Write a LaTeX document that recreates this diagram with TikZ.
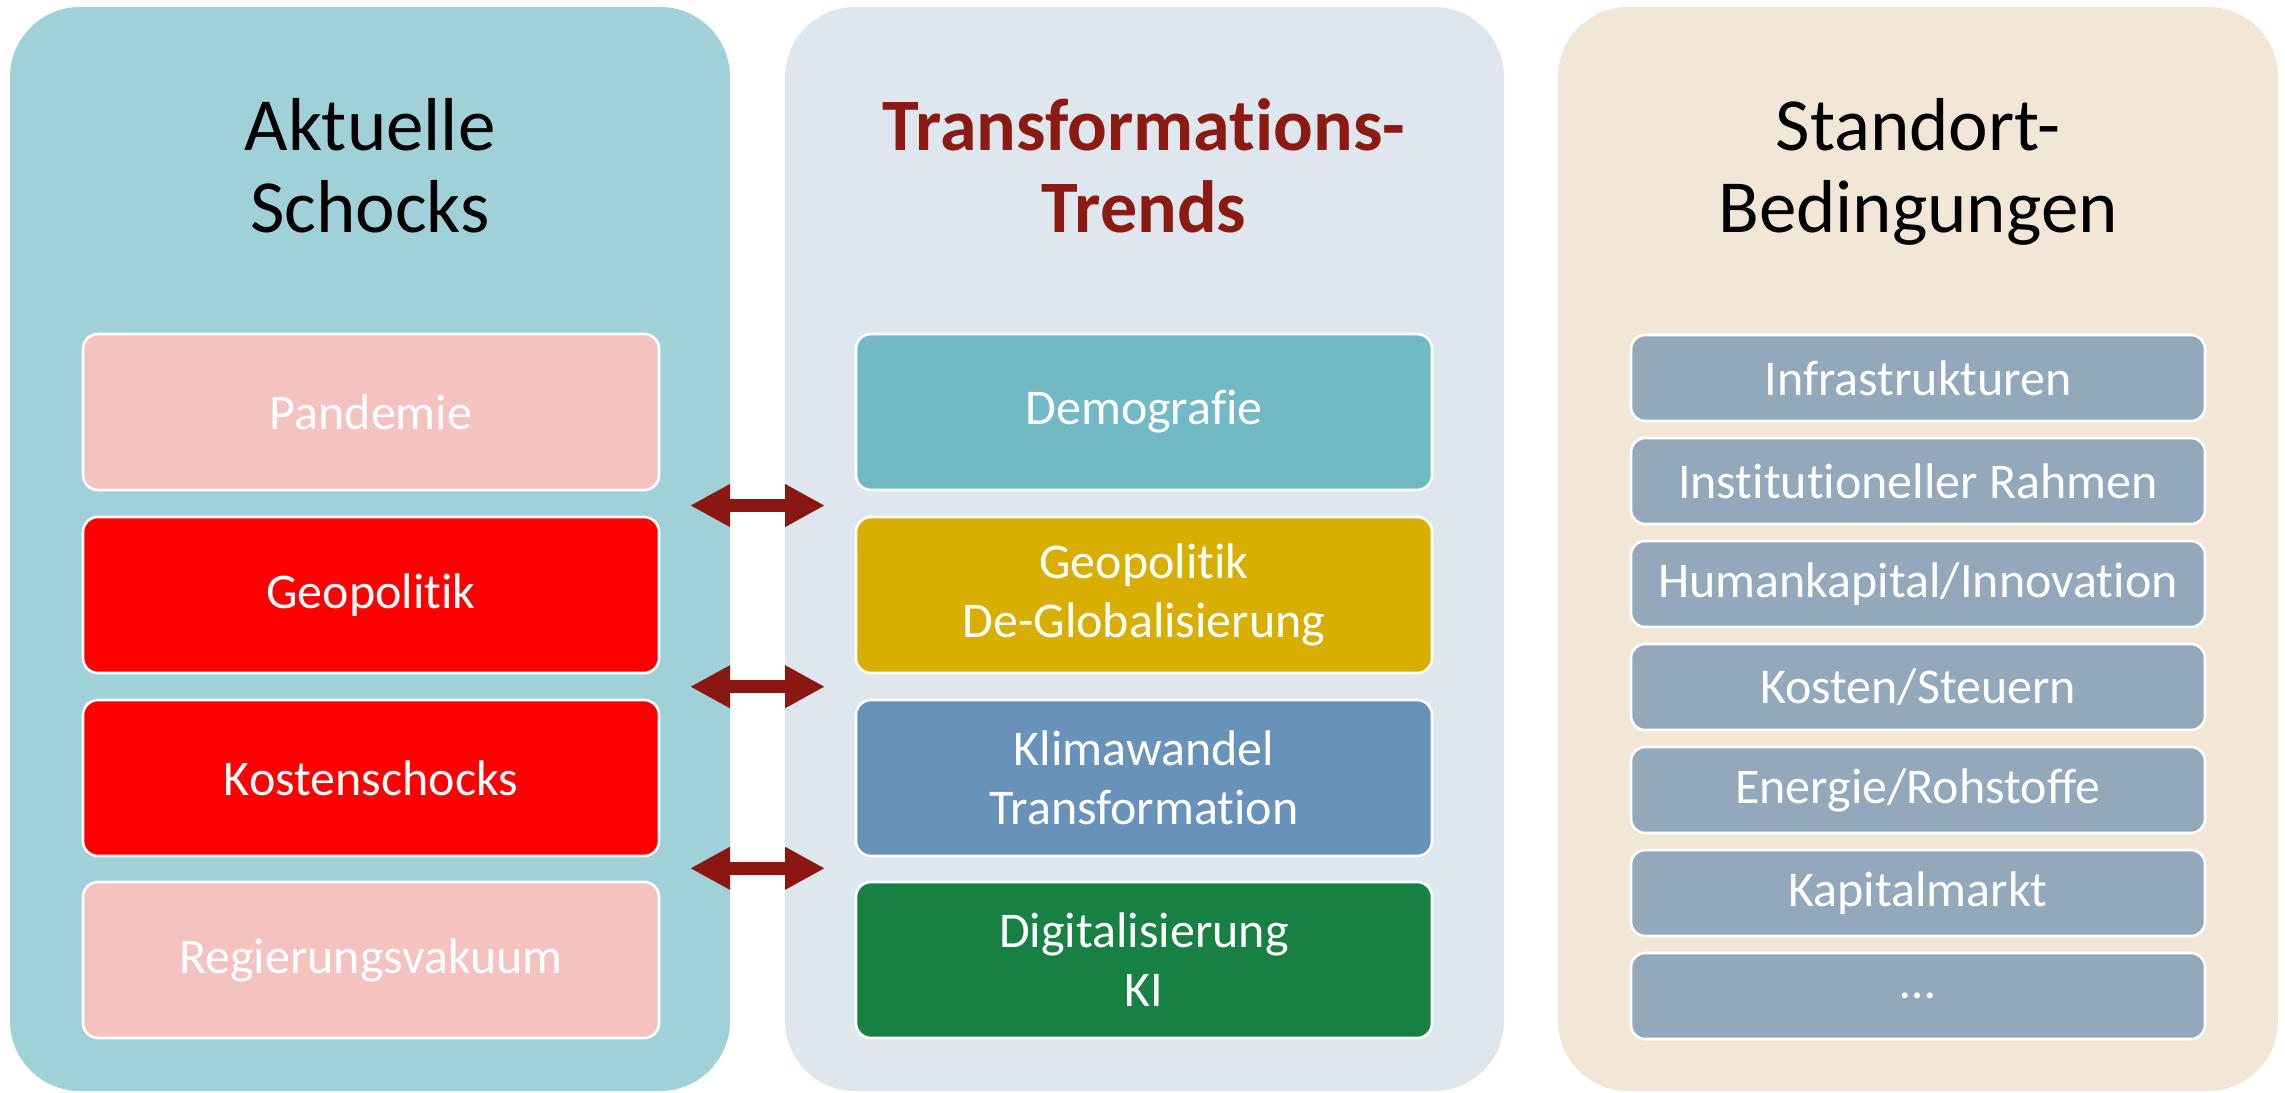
\documentclass[tikz,border=0pt]{standalone}
\usepackage{fontspec}
\setmainfont{Carlito}[Ligatures=NoCommon]
\usetikzlibrary{arrows.meta}
\definecolor{panelA}{HTML}{A1D1D8}
\definecolor{panelB}{HTML}{DFE7EE}
\definecolor{panelC}{HTML}{F2E7D6}
\definecolor{pinkbox}{HTML}{F4C3BF}
\definecolor{redbox}{HTML}{FF0000}
\definecolor{tealbox}{HTML}{71B9C4}
\definecolor{goldbox}{HTML}{D8AF00}
\definecolor{steelbox}{HTML}{6892B9}
\definecolor{greenbox}{HTML}{168142}
\definecolor{graybox}{HTML}{93A8BB}
\definecolor{titlered}{HTML}{8B1A12}
\definecolor{arrowred}{HTML}{8A1712}
\tikzset{
  panel/.style={rounded corners=35pt},
  ptitle/.style={align=center, font=\fontsize{37.5}{41}\selectfont},
  bigbox/.style={draw=white, line width=1.3pt, rounded corners=7.5pt,
    minimum width=288pt, minimum height=78pt, inner sep=0pt,
    text=white, align=center, font=\fontsize{25}{29.5}\selectfont},
  smallbox/.style={draw=white, line width=1.3pt, rounded corners=7pt,
    minimum width=287pt, minimum height=43pt, inner sep=0pt,
    text=white, fill=graybox, align=center, font=\fontsize{25}{29}\selectfont},
  dblarrow/.style={draw=arrowred, line width=6.5pt,
    {Triangle[length=20pt,width=20pt]}-{Triangle[length=20pt,width=20pt]}}
}
\begin{document}
\begin{tikzpicture}[x=0.5pt,y=-0.5pt]
\useasboundingbox (0,0) rectangle (2285,1092);
\fill[white] (0,0) rectangle (2285,1092);
% panels
\fill[panelA,panel] (10,7) rectangle (730,1091);
\fill[panelB,panel] (785,7) rectangle (1504,1091);
\fill[panelC,panel] (1558,7) rectangle (2278,1091);
% titles (base anchor = baseline of the last line)
\node[ptitle, anchor=base] (t1) at (370,232) {Aktuelle\\Schocks};
\node[ptitle, anchor=base, text=titlered, font=\fontsize{37}{41}\selectfont\bfseries] (t2) at (1144,232) {Transformations-\\Trends};
\node[ptitle, anchor=base] (t3) at (1918,232) {Standort-\\Bedingungen};
% left boxes
\node[bigbox, fill=pinkbox] (l1) at (371,412) {Pandemie};
\node[bigbox, fill=redbox] (l2) at (371,595) {Geopolitik};
\node[bigbox, fill=redbox] (l3) at (371,778) {Kostenschocks};
\node[bigbox, fill=pinkbox] (l4) at (371,960) {Regierungsvakuum};
% middle boxes
\node[bigbox, fill=tealbox] (m1) at (1144,412) {Demografie};
\node[bigbox, fill=goldbox] (m2) at (1144,595) {Geopolitik\\De-Globalisierung};
\node[bigbox, fill=steelbox] (m3) at (1144,778) {Klimawandel\\Transformation};
\node[bigbox, fill=greenbox] (m4) at (1144,960) {Digitalisierung\\KI};
% right boxes
\node[smallbox] (r1) at (1918,378) {Infrastrukturen};
\node[smallbox] (r2) at (1918,481) {Institutioneller Rahmen};
\node[smallbox] (r3) at (1918,584) {Humankapital/Innovation};
\node[smallbox] (r4) at (1918,687) {Kosten/Steuern};
\node[smallbox] (r5) at (1918,790) {Energie/Rohstoffe};
\node[smallbox] (r6) at (1918,893) {Kapitalmarkt};
\node[smallbox] (r7) at (1918,996) {\dots};
% arrows
\coordinate (a1l) at (690,505.5);
\coordinate (a1r) at (825,505.5);
\coordinate (a2l) at (690,686.7);
\coordinate (a2r) at (825,686.7);
\coordinate (a3l) at (690,868.3);
\coordinate (a3r) at (825,868.3);
\draw[dblarrow] (a1l) -- (a1r);
\draw[dblarrow] (a2l) -- (a2r);
\draw[dblarrow] (a3l) -- (a3r);
\end{tikzpicture}
\end{document}
